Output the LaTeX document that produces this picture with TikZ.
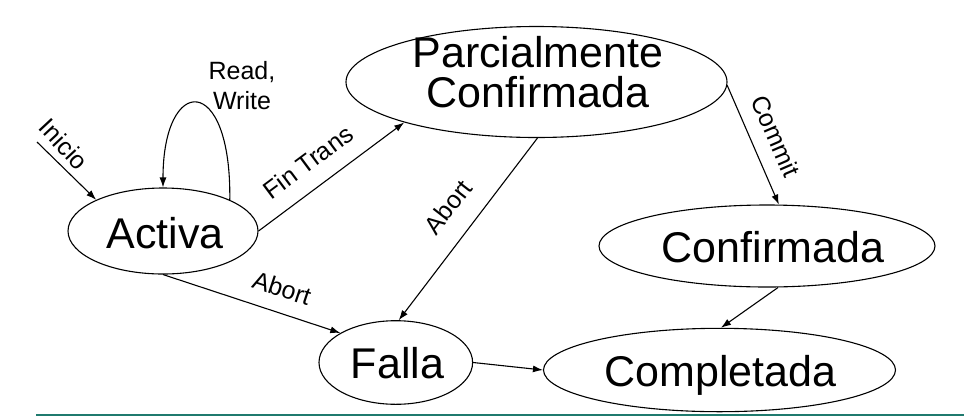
\documentclass[tikz,border=0pt]{standalone}
\usepackage{fontspec}
\setmainfont{Liberation Sans}
\usetikzlibrary{arrows.meta,shapes.geometric}
\definecolor{rulecol}{RGB}{31,122,110}
\begin{document}
\begin{tikzpicture}[x=1pt,y=-1pt,
  state/.style={draw,ellipse,line width=1.1pt,inner sep=0pt},
  big/.style={font=\fontsize{43}{40}\selectfont,inner sep=0pt},
  lbl/.style={font=\fontsize{25}{30}\selectfont,inner sep=0pt},
  arr/.style={line width=1.1pt,-{Latex[length=10pt,width=7pt]}}]
\useasboundingbox (0,0) rectangle (964,416);
% states
\node[state,minimum width=190pt,minimum height=86pt] (act) at (163,231) {};
\node[state,minimum width=381pt,minimum height=111pt] (pc) at (536.5,82) {};
\node[state,minimum width=336pt,minimum height=82pt] (conf) at (767,246) {};
\node[state,minimum width=153.6pt,minimum height=83.6pt] (falla) at (395.8,362.5) {};
\node[state,minimum width=352pt,minimum height=83.4pt] (comp) at (719.5,370) {};
% state texts
\node[big,anchor=base] (tact) at (165,248) {Activa};
\node[big,align=center] (tpc) at (538,72.3) {Parcialmente\\Confirmada};
\node[big,anchor=base] (tconf) at (773,262) {Confirmada};
\node[big,anchor=base] (tfalla) at (397.5,378.3) {Falla};
\node[big,anchor=base] (tcomp) at (720.3,386.7) {Completada};
% connectors
\coordinate (ini) at (37,142);
\draw[arr] (ini) -- (act.155);
\draw[arr] (act.25) .. controls (231.5,72) and (163,74) .. (act.90);
\draw[arr] (act.0) -- (pc.197);
\draw[arr] (pc.-89) -- (falla.86);
\draw[arr] (pc.-1) -- (conf.74);
\draw[arr] (conf.-75) -- (comp.88);
\draw[arr] (act.-90) -- (falla.152);
\draw[arr] (falla.0) -- (comp.180);
% labels
\node[lbl,rotate=-47] (linicio) at (64,144) {Inicio};
\node[lbl,align=center] (lrw) at (242,86) {Read,\\Write};
\node[lbl,rotate=36.6] (lfin) at (308,162) {Fin Trans};
\node[lbl,rotate=52.1] (lab1) at (448,207) {Abort};
\node[lbl,rotate=-66.6] (lcom) at (776,136) {Commit};
\node[lbl,rotate=-18.4] (lab2) at (282,288) {Abort};
% bottom rule
\coordinate (ruleL) at (36,415);
\coordinate (ruleR) at (964,415);
\draw[rulecol,line width=1.6pt] (ruleL) -- (ruleR);
\end{tikzpicture}
\end{document}
